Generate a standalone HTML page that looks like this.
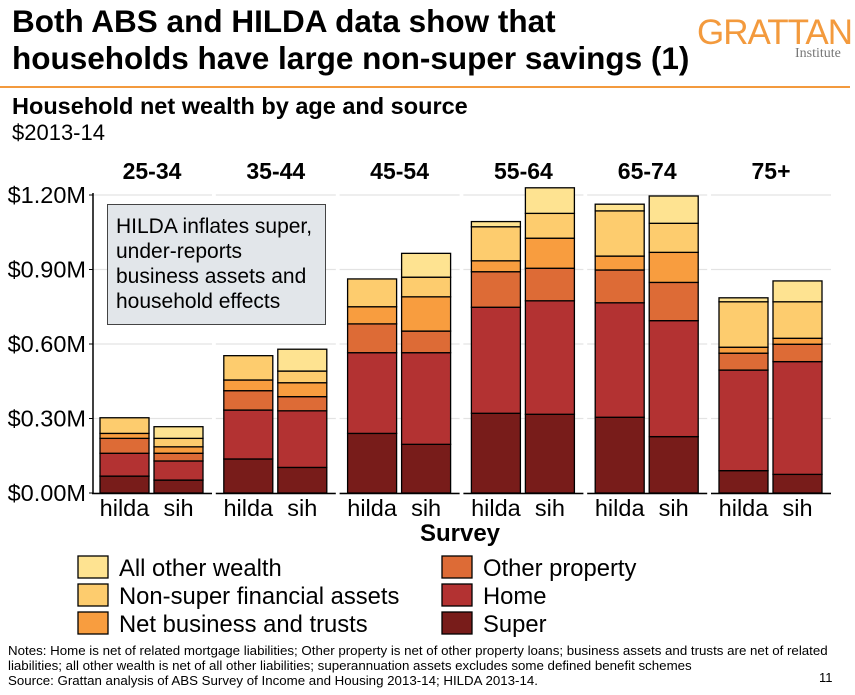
<!DOCTYPE html>
<html><head><meta charset="utf-8"><style>
body{margin:0;background:#fff;font-family:"Liberation Sans",Arial,sans-serif;}
#wrap{position:relative;width:855px;height:695px;overflow:hidden;}
.t{position:absolute;white-space:nowrap;color:#000;}
</style></head><body>
<div id="wrap">
<div class="t" style="left:12px;top:3px;font-size:31.5px;font-weight:bold;line-height:37px;">Both ABS and HILDA data show that<br>households have large non-super savings (1)</div>
<div class="t" style="left:697px;top:13px;font-size:35px;color:#F39A3D;letter-spacing:-1px;">GRATTAN</div>
<div class="t" style="left:795px;top:46px;font-size:14px;color:#777;font-family:'Liberation Serif',serif;">Institute</div>
<div style="position:absolute;left:0;top:86px;width:850px;height:2px;background:#F39A3D;"></div>
<div class="t" style="left:12px;top:93px;font-size:23.5px;font-weight:bold;">Household net wealth by age and source</div>
<div class="t" style="left:12px;top:120px;font-size:22px;">$2013-14</div>
<svg id="chart" width="855" height="695" style="position:absolute;left:0;top:0"></svg>
<div class="t" style="left:8px;top:643px;font-size:13.3px;line-height:15px;">Notes: Home is net of related mortgage liabilities; Other property is net of other property loans; business assets and trusts are net of related<br>liabilities; all other wealth is net of all other liabilities; superannuation assets excludes some defined benefit schemes<br>Source: Grattan analysis of ABS Survey of Income and Housing 2013-14; HILDA 2013-14.</div>
<div class="t" style="left:819px;top:670px;font-size:13px;">11</div>
</div>
<script>
const ageGroups=["25-34","35-44","45-54","55-64","65-74","75+"];
const surveys=["hilda","sih"];
const seriesNames=["Super","Home","Other property","Net business and trusts","Non-super financial assets","All other wealth"];
const superVals=[[0.068,0.052],[0.137,0.103],[0.240,0.196],[0.321,0.317],[0.305,0.227],[0.090,0.075]];
const homeVals=[[0.092,0.077],[0.197,0.228],[0.325,0.369],[0.427,0.457],[0.461,0.467],[0.405,0.454]];
const otherPropVals=[[0.060,0.031],[0.078,0.057],[0.116,0.087],[0.143,0.131],[0.132,0.154],[0.068,0.070]];
const businessVals=[[0.020,0.026],[0.043,0.056],[0.069,0.138],[0.044,0.121],[0.056,0.121],[0.024,0.024]];
const nonSuperFinVals=[[0.063,0.034],[0.098,0.047],[0.112,0.079],[0.137,0.100],[0.182,0.117],[0.183,0.147]];
const allOtherVals=[[0.000,0.047],[0.000,0.088],[0.000,0.096],[0.021,0.103],[0.027,0.110],[0.016,0.084]];
const yTicks=[0,0.3,0.6,0.9,1.2];
const yTickLabels=["$0.00M","$0.30M","$0.60M","$0.90M","$1.20M"];
const colors=["#781C1A","#B33232","#DD6B36","#F89D3F","#FDCC6E","#FEE391"];
const NS="http://www.w3.org/2000/svg";
const svg=document.getElementById('chart');
const y0=493,y1=195;
function yScale(v){return y0-(v/1.2)*(y0-y1);}
function facetX(i){return 94+i*123.8;}
function barX(i,j){return facetX(i)+6+j*54;}
function el(tag,a){const e=document.createElementNS(NS,tag);for(const k in a)e.setAttribute(k,a[k]);svg.appendChild(e);return e;}
ageGroups.forEach((g,i)=>{
  yTicks.forEach(t=>{
    const l=el('line',{x1:facetX(i)-2,x2:facetX(i)+118,y1:yScale(t),y2:yScale(t),stroke:'#e3e3e3','stroke-width':1.2});
    
    
  });
  const ax=el('line',{x1:facetX(i)-2,x2:facetX(i)+118,y1:y0+0.5,y2:y0+0.5,stroke:'#000','stroke-width':1.5});
  
  
  const ft=el('text',{x:facetX(i)+58,y:179,'text-anchor':'middle','font-size':23,'font-weight':'bold','font-family':'Liberation Sans, sans-serif'});
  ft.textContent=g;
  
  
});
const yax=el('line',{x1:93,x2:93,y1:y1-2,y2:y0+1,stroke:'#000','stroke-width':1.5});


yTicks.forEach((t,k)=>{
  const tk=el('line',{x1:89,x2:93,y1:yScale(t),y2:yScale(t),stroke:'#000','stroke-width':1});
  
  
  const tl=el('text',{x:86,y:yScale(t)+8,'text-anchor':'end','font-size':23.5,'font-family':'Liberation Sans, sans-serif'});
  tl.textContent=yTickLabels[k];
  
  
});
const allSeries=[superVals,homeVals,otherPropVals,businessVals,nonSuperFinVals,allOtherVals];
ageGroups.forEach((g,i)=>{
  surveys.forEach((s,j)=>{
    let cum=0;
    allSeries.forEach((ser,k)=>{
      const v=ser[i][j];
      const top=cum+v;
      const r=el('rect',{x:barX(i,j),y:yScale(top),width:49,height:Math.max(0,yScale(cum)-yScale(top)),fill:colors[k],stroke:'#000','stroke-width':1.3});
      
      
      cum=top;
    });
    const xl=el('text',{x:barX(i,j)+24.5,y:516,'text-anchor':'middle','font-size':23.5,'font-family':'Liberation Sans, sans-serif'});
    xl.textContent=s;
    
    
  });
});
const xt=el('text',{x:460,y:541,'text-anchor':'middle','font-size':24,'font-weight':'bold','font-family':'Liberation Sans, sans-serif'});
xt.textContent='Survey';


const box=el('rect',{x:107.5,y:204.5,width:218,height:120,fill:'#E2E6EA',stroke:'#444','stroke-width':1});


["HILDA inflates super,","under-reports","business assets and","household effects"].forEach((line,k)=>{
  const at=el('text',{x:116,y:233+k*25,'font-size':21,'font-family':'Liberation Sans, sans-serif'});
  at.textContent=line;
  
  
});
const legendOrder=[[5,78,556],[4,78,584],[3,78,612],[2,442,556],[1,442,584],[0,442,612]];
legendOrder.forEach(([k,x,y])=>{
  const r=el('rect',{x:x,y:y,width:30,height:22,fill:colors[k],stroke:'#000','stroke-width':1.3});
  
  
  const t=el('text',{x:x+41,y:y+20,'font-size':23.8,'font-family':'Liberation Sans, sans-serif'});
  t.textContent=seriesNames[k];
  
  
});
</script>
</body></html>
